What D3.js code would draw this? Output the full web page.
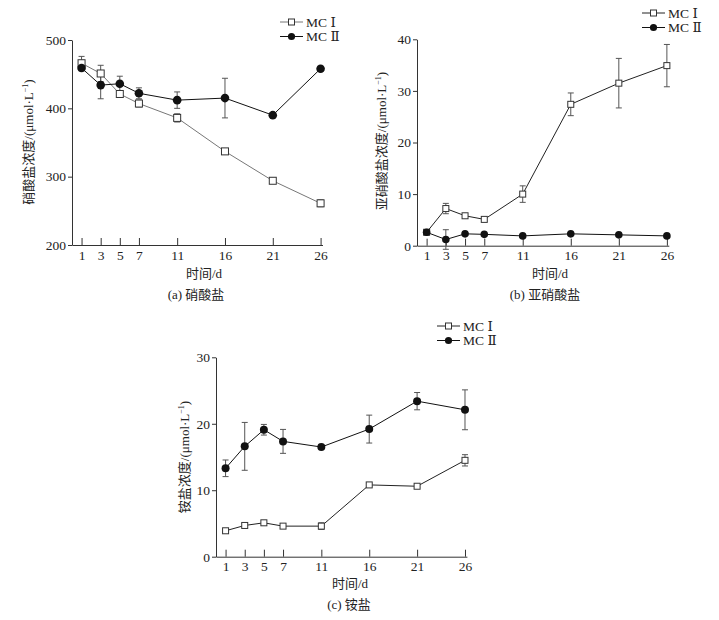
<!DOCTYPE html>
<html><head><meta charset="utf-8">
<script src="https://cdn.jsdelivr.net/npm/d3@7"></script>
<style>
body{margin:0;background:#fff;}
svg{display:block;}
text{fill:#222;}
.serif{font-family:"Liberation Serif","Tinos","Times New Roman","DejaVu Serif",serif;}
.cjk{font-family:"Noto Sans CJK SC","Noto Sans CJK JP",sans-serif;}
</style></head>
<body>
<svg id="c" width="719" height="620"></svg>
<script>
const days = [1, 3, 5, 7, 11, 16, 21, 26];
const seriesNames = ["MC Ⅰ", "MC Ⅱ"];

// (a) nitrate
const nitrateMC1 = [466, 451, 421, 407, 386, 337, 294, 261];
const nitrateMC1Err = [10, 12, 5, 5, 6, 4, 4, 5];
const nitrateMC2 = [459, 434, 436, 422, 412, 415, 390, 458];
const nitrateMC2Err = [4, 20, 11, 8, 12, 29, 3, 3];
const nitrateTicks = [200, 300, 400, 500];

// (b) nitrite
const nitriteMC1 = [2.6, 7.2, 5.8, 5.1, 10.0, 27.4, 31.5, 34.9];
const nitriteMC1Err = [0.2, 1.0, 0.3, 0.3, 1.6, 2.2, 4.8, 4.1];
const nitriteMC2 = [2.6, 1.2, 2.3, 2.2, 1.9, 2.3, 2.1, 1.9];
const nitriteMC2Err = [0.2, 1.9, 0.2, 0.2, 0.2, 0.2, 0.2, 0.2];
const nitriteTicks = [0, 10, 20, 30, 40];

// (c) ammonium
const ammoniumMC1 = [3.9, 4.7, 5.1, 4.6, 4.6, 10.8, 10.6, 14.5];
const ammoniumMC1Err = [0.2, 0.3, 0.3, 0.2, 0.5, 0.2, 0.2, 0.85];
const ammoniumMC2 = [13.3, 16.6, 19.1, 17.35, 16.5, 19.2, 23.4, 22.1];
const ammoniumMC2Err = [1.25, 3.6, 0.8, 1.8, 0.2, 2.1, 1.3, 3.0];
const ammoniumTicks = [0, 10, 20, 30];

const svg = d3.select("#c");

function drawPanel(p) {
  const x = d3.scaleLinear().domain([0, 26.2]).range([p.x0, p.x1]);
  const y = d3.scaleLinear().domain(p.yDomain).range([p.y0, p.y1]);
  const g = svg.append("g");

  const ya = g.append("g").attr("transform", `translate(${p.x0},0)`)
    .call(d3.axisLeft(y).tickValues(p.yTicks).tickSize(4).tickPadding(2).tickSizeOuter(0));
  const xa = g.append("g").attr("transform", `translate(0,${p.y0})`)
    .call(d3.axisBottom(x).tickValues(days).tickSize(-7).tickPadding(5).tickSizeOuter(0));
  [ya, xa].forEach(a => {
    a.attr("font-family", null).attr("font-size", null);
    a.selectAll("path,line").attr("stroke", "#333").attr("stroke-width", 1);
    a.selectAll("text").attr("class", "serif").attr("font-size", 13.5).attr("fill", "#222");
  });

  const series = [
    {v: p.mc1, e: p.mc1Err, type: "sq", color: p.mc1Color},
    {v: p.mc2, e: p.mc2Err, type: "ci", color: "#111"}
  ];
  const line = d3.line().x(d => x(d[0])).y(d => y(d[1]));

  series.forEach(s => {
    const pts = days.map((d, i) => [d, s.v[i], s.e[i]]);
    const eg = g.append("g").attr("stroke", "#555").attr("stroke-width", 1);
    pts.forEach(d => {
      const cx = x(d[0]);
      eg.append("line").attr("x1", cx).attr("x2", cx).attr("y1", y(d[1] - d[2])).attr("y2", y(d[1] + d[2]));
      eg.append("line").attr("x1", cx - 3).attr("x2", cx + 3).attr("y1", y(d[1] - d[2])).attr("y2", y(d[1] - d[2]));
      eg.append("line").attr("x1", cx - 3).attr("x2", cx + 3).attr("y1", y(d[1] + d[2])).attr("y2", y(d[1] + d[2]));
    });
    g.append("path").datum(pts).attr("d", line).attr("fill", "none")
      .attr("stroke", s.color).attr("stroke-width", 1);
  });
  series.forEach(s => {
    days.forEach((d, i) => drawMarker(g, s.type, x(d), y(s.v[i]), p.sq, p.r));
  });

  const lg = g.append("g");
  series.forEach((s, i) => {
    const ly = p.legY + i * 14.5;
    lg.append("line").attr("x1", p.legX).attr("x2", p.legX + 23).attr("y1", ly).attr("y2", ly)
      .attr("stroke", s.color).attr("stroke-width", 1);
    drawMarker(lg, s.type, p.legX + 11.5, ly, 6, 3.6);
    const t = lg.append("text").attr("x", p.legX + 26).attr("y", ly + 4.5).attr("font-size", 13.5);
    t.append("tspan").attr("class", "serif").text("MC ");
    t.append("tspan").attr("class", "serif").text(seriesNames[i].slice(3));
  });

  const yt = g.append("text").attr("transform", `translate(${p.ytX},${p.ytY}) rotate(-90)`)
    .attr("text-anchor", "middle").attr("font-size", 13);
  yt.append("tspan").attr("class", "cjk").text(p.yTitle);
  yt.append("tspan").attr("class", "serif").text("/(μmol·L");
  yt.append("tspan").attr("class", "serif").attr("font-size", 8).attr("dy", -5).text("−1");
  yt.append("tspan").attr("class", "serif").attr("dy", 5).text(")");

  const xt = g.append("text").attr("x", p.xtX).attr("y", p.xtY).attr("text-anchor", "middle").attr("font-size", 13);
  xt.append("tspan").attr("class", "cjk").text("时间");
  xt.append("tspan").attr("class", "serif").text("/d");

  const ct = g.append("text").attr("x", p.capX).attr("y", p.capY).attr("text-anchor", "middle").attr("font-size", 13);
  ct.append("tspan").attr("class", "serif").text(p.capTag + " ");
  ct.append("tspan").attr("class", "cjk").text(p.cap);
}

function drawMarker(g, type, cx, cy, sq, r) {
  if (type === "sq") {
    g.append("rect").attr("x", cx - sq / 2).attr("y", cy - sq / 2).attr("width", sq).attr("height", sq)
      .attr("fill", "#fff").attr("stroke", "#333").attr("stroke-width", 1);
  } else {
    g.append("circle").attr("cx", cx).attr("cy", cy).attr("r", r).attr("fill", "#111");
  }
}

drawPanel({
  x0: 72, x1: 322.5, y0: 245, y1: 40, yDomain: [200, 500], yTicks: nitrateTicks,
  mc1: nitrateMC1, mc1Err: nitrateMC1Err, mc2: nitrateMC2, mc2Err: nitrateMC2Err,
  mc1Color: "#777", sq: 7, r: 4.3,
  legX: 280, legY: 22, ytX: 33, ytY: 142, yTitle: "硝酸盐浓度",
  xtX: 204, xtY: 278, capX: 196, capY: 299, capTag: "(a)", cap: "硝酸盐"
});
drawPanel({
  x0: 417, x1: 668.8, y0: 245.7, y1: 39.3, yDomain: [0, 40], yTicks: nitriteTicks,
  mc1: nitriteMC1, mc1Err: nitriteMC1Err, mc2: nitriteMC2, mc2Err: nitriteMC2Err,
  mc1Color: "#222", sq: 6, r: 3.8,
  legX: 642, legY: 13, ytX: 386, ytY: 141, yTitle: "亚硝酸盐浓度",
  xtX: 550, xtY: 278, capX: 545, capY: 299, capTag: "(b)", cap: "亚硝酸盐"
});
drawPanel({
  x0: 216, x1: 466.9, y0: 556.7, y1: 357.3, yDomain: [0, 30], yTicks: ammoniumTicks,
  mc1: ammoniumMC1, mc1Err: ammoniumMC1Err, mc2: ammoniumMC2, mc2Err: ammoniumMC2Err,
  mc1Color: "#222", sq: 6, r: 4,
  legX: 437, legY: 326, ytX: 189, ytY: 457, yTitle: "铵盐浓度",
  xtX: 350, xtY: 588, capX: 349, capY: 609, capTag: "(c)", cap: "铵盐"
});
</script>
</body></html>
